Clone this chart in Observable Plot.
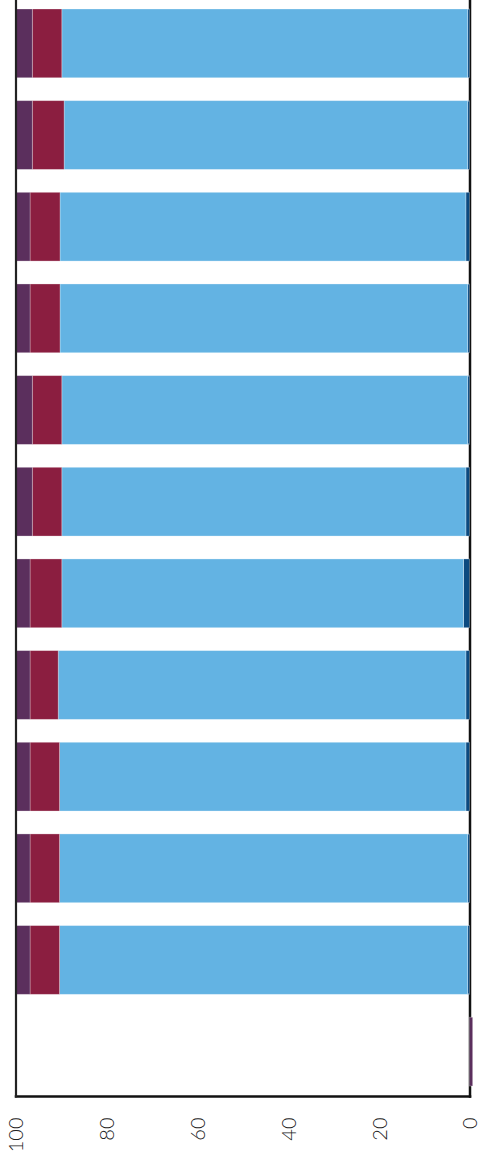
<!DOCTYPE html>
<html>
<head>
<meta charset="utf-8">
<script src="https://cdn.jsdelivr.net/npm/d3@7"></script>
<script src="https://cdn.jsdelivr.net/npm/@observablehq/plot@0.6"></script>
<style>
  html, body { margin: 0; padding: 0; background: #fff; }
  #chart svg { display: block; }
</style>
</head>
<body>
<div id="chart"></div>
<script>
// Categories (original order; the first one is drawn at the bottom)
const categories = ["c1","c2","c3","c4","c5","c6","c7","c8","c9","c10","c11","c12"];
// Series in stacking order (from the 0 end outwards)
const seriesNames = ["Series D", "Series C", "Series B", "Series A"];
const seriesColors = ["#0b4a80", "#63b3e3", "#8b1e40", "#5b2f5d"];
// Values (percent) per category
const seriesD = [0,   0.4,  0.4,  0.8,  0.8,  1.3,  0.8,  0.4,  0.4,  0.8,  0.4,  0.4];
const seriesC = [0,  89.9, 89.9, 89.5, 89.8, 88.5, 89.0, 89.4, 89.8, 89.4, 88.9, 89.4];
const seriesB = [0,   6.5,  6.5,  6.5,  6.2,  7.0,  6.5,  6.5,  6.6,  6.6,  7.0,  6.5];
const seriesA = [-0.7, 3.2,  3.2,  3.2,  3.2,  3.2,  3.7,  3.7,  3.2,  3.2,  3.7,  3.7];
// Value-axis tick labels
const ticks = [0, 20, 40, 60, 80, 100];

const seriesValues = [seriesD, seriesC, seriesB, seriesA];
const rows = [];
seriesNames.forEach((s, i) => {
  categories.forEach((c, j) => rows.push({category: c, series: s, value: seriesValues[i][j]}));
});

const W = 479, H = 1163;
const plot = Plot.plot({
  width: W,
  height: H,
  marginLeft: 15.5,
  marginRight: 9.5,
  marginTop: 0,
  marginBottom: 67,
  style: {background: "#fff", fontFamily: "Lato, 'Open Sans', sans-serif"},
  x: {domain: [0, 100], reverse: true, axis: null},
  y: {domain: categories.slice().reverse(), range: [-2, 1097], round: false, paddingInner: 0.25, paddingOuter: 0.12, axis: null},
  color: {type: "ordinal", domain: seriesNames, range: seriesColors, legend: false},
  marks: [
    Plot.frame({anchor: "right", stroke: "#111", strokeWidth: 2.5}),
    Plot.frame({anchor: "bottom", stroke: "#111", strokeWidth: 2.5}),
    Plot.barX(rows, Plot.stackX({
      y: "category",
      x: "value",
      fill: "series",
      z: "series",
      order: null,
      stroke: "white",
      strokeOpacity: 0.35,
      strokeWidth: 0.8
    })),
    Plot.frame({anchor: "left", stroke: "#222", strokeWidth: 2.2}),
    Plot.text(ticks, {
      x: d => d,
      text: d => String(d),
      frameAnchor: "bottom",
      rotate: -90,
      textAnchor: "end",
      lineAnchor: "middle",
      dy: 21,
      dx: 1,
      fontSize: 20,
      fontWeight: 300,
      fill: "#222"
    })
  ]
});
document.getElementById("chart").appendChild(plot);
</script>
</body>
</html>
